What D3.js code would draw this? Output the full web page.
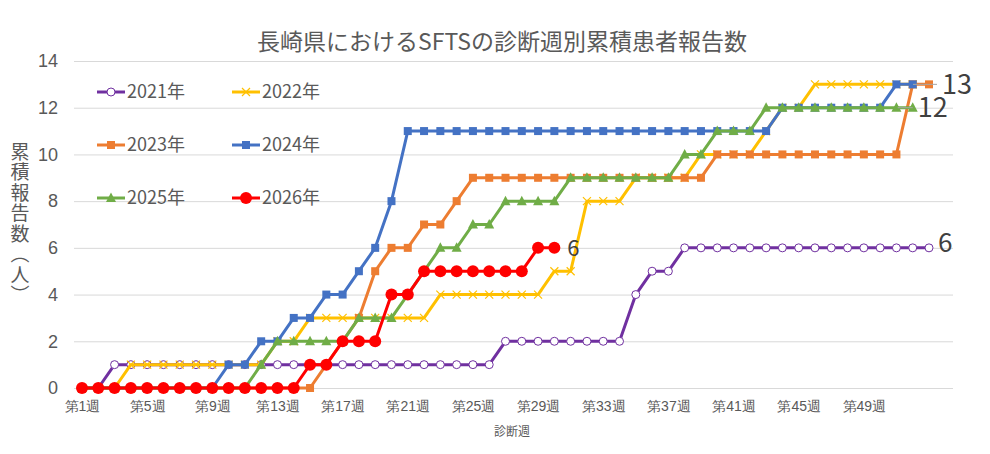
<!DOCTYPE html>
<html lang="ja">
<head>
  <meta charset="UTF-8">
  <title>長崎県におけるSFTSの診断週別累積患者報告数</title>
  <script src="https://d3js.org/d3.v7.min.js"></script>
  <style>
    body {
      margin: 0;
      background: #fff;
      font-family: "Noto Sans CJK JP", "Noto Sans", sans-serif;
    }
    .grid line {
      stroke: #d9d9d9;
      stroke-width: 1;
    }
    .tick text {
      fill: #595959;
    }
  </style>
</head>
<body>
  <div id="chart"></div>

  <script>
    // 週 (第1週〜第53週)
    const weeks = d3.range(1, 54);
    const weekTicks = [1, 5, 9, 13, 17, 21, 25, 29, 33, 37, 41, 45, 49];
    const yTicks = [0, 2, 4, 6, 8, 10, 12, 14];

    // 各年の累積報告数 (週ごと)
    const y2021 = [0,0,1,1,1,1,1,1,1,1, 1,1,1,1,1,1,1,1,1,1, 1,1,1,1,1,1,2,2,2,2, 2,2,2,2,4,5,5,6,6,6, 6,6,6,6,6,6,6,6,6,6, 6,6,6];
    const y2022 = [0,0,0,1,1,1,1,1,1,1, 1,1,2,2,3,3,3,3,3,3, 3,3,4,4,4,4,4,4,4,5, 5,8,8,8,9,9,9,9,10,10, 10,10,11,12,12,13,13,13,13,13, 13,13];
    const y2023 = [0,0,0,0,0,0,0,0,0,0, 0,0,0,0,0,1,2,3,5,6, 6,7,7,8,9,9,9,9,9,9, 9,9,9,9,9,9,9,9,9,10, 10,10,10,10,10,10,10,10,10,10, 10,13,13];
    const y2024 = [0,0,0,0,0,0,0,0,0,1, 1,2,2,3,3,4,4,5,6,8, 11,11,11,11,11,11,11,11,11,11, 11,11,11,11,11,11,11,11,11,11, 11,11,11,12,12,12,12,12,12,12, 13,13];
    const y2025 = [0,0,0,0,0,0,0,0,0,0, 0,1,2,2,2,2,2,3,3,3, 4,5,6,6,7,7,8,8,8,8, 9,9,9,9,9,9,9,10,10,11, 11,11,12,12,12,12,12,12,12,12, 12,12];
    const y2026 = [0,0,0,0,0,0,0,0,0,0, 0,0,0,0,1,1,2,2,2,4, 4,5,5,5,5,5,5,5,6,6];

    const series = [
      { name: "2021年", values: y2021, color: "#7030A0", marker: "openCircle" },
      { name: "2022年", values: y2022, color: "#FFC000", marker: "cross" },
      { name: "2023年", values: y2023, color: "#ED7D31", marker: "square" },
      { name: "2024年", values: y2024, color: "#4472C4", marker: "square" },
      { name: "2025年", values: y2025, color: "#70AD47", marker: "triangle" },
      { name: "2026年", values: y2026, color: "#FF0000", marker: "circle" }
    ];

    const width = 990, height = 454;
    const plotLeft = 74, plotRight = 953, plotTop = 61, plotBottom = 388;

    const svg = d3.select("#chart").append("svg")
      .attr("width", width)
      .attr("height", height);

    const x = d3.scalePoint()
      .domain(weeks)
      .range([82, 929]);

    const y = d3.scaleLinear()
      .domain([0, 14])
      .range([plotBottom, plotTop]);

    // タイトル
    svg.append("text")
      .attr("x", 502)
      .attr("y", 50)
      .attr("text-anchor", "middle")
      .style("font-size", "23px")
      .style("fill", "#595959")
      .text("長崎県におけるSFTSの診断週別累積患者報告数");

    // グリッドと縦軸
    svg.append("g")
      .attr("class", "grid")
      .attr("transform", "translate(" + plotLeft + ",0)")
      .call(d3.axisLeft(y).tickValues(yTicks).tickSize(-(plotRight - plotLeft)).tickPadding(16))
      .call(g => g.select(".domain").remove())
      .selectAll(".tick text")
      .style("font-size", "18px");

    // 横軸
    svg.append("g")
      .attr("transform", "translate(0," + plotBottom + ")")
      .call(d3.axisBottom(x).tickValues(weekTicks).tickFormat(w => "第" + w + "週").tickSize(0).tickPadding(13))
      .call(g => g.select(".domain").remove())
      .selectAll(".tick text")
      .style("font-size", "14px");

    // 軸タイトル
    svg.append("text")
      .attr("x", 512)
      .attr("y", 436)
      .attr("text-anchor", "middle")
      .style("font-size", "12px")
      .style("fill", "#595959")
      .text("診断週");

    // 縦書きの軸タイトル
    svg.append("text")
      .attr("x", 20)
      .attr("y", 142)
      .style("writing-mode", "vertical-rl")
      .style("letter-spacing", "1.5px")
      .style("font-size", "19px")
      .style("fill", "#595959")
      .text("累積報告数（人）");

    // マーカー
    function drawMarker(g, type, color) {
      if (type === "openCircle") {
        g.append("circle").attr("r", 4).attr("fill", "#fff").attr("stroke", color).attr("stroke-width", 1);
      } else if (type === "cross") {
        g.append("path").attr("d", "M-4,-4L4,4M-4,4L4,-4").attr("stroke", color).attr("stroke-width", 1.2).attr("fill", "none");
      } else if (type === "square") {
        g.append("rect").attr("x", -4).attr("y", -4).attr("width", 8).attr("height", 8).attr("fill", color);
      } else if (type === "triangle") {
        g.append("path").attr("d", "M0,-5.5L5,4L-5,4Z").attr("fill", color);
      } else if (type === "circle") {
        g.append("circle").attr("r", 6).attr("fill", color);
      }
    }

    const line = d3.line()
      .x((d, i) => x(weeks[i]))
      .y(d => y(d));

    series.forEach(s => {
      const g = svg.append("g");
      g.append("path")
        .datum(s.values)
        .attr("d", line)
        .attr("fill", "none")
        .attr("stroke", s.color)
        .attr("stroke-width", 3)
        .attr("stroke-linejoin", "round");
      s.values.forEach((v, i) => {
        const m = g.append("g").attr("transform", "translate(" + x(weeks[i]) + "," + y(v) + ")");
        drawMarker(m, s.marker, s.color);
      });
    });

    // データラベル
    const labels = [
      { s: series[0], dx: 9, dy: -5, size: 26 },
      { s: series[2], dx: 13, dy: 0, size: 27, leader: [-16, 8] },
      { s: series[4], dx: 5, dy: 0, size: 27, leader: [-15, 0] },
      { s: series[5], dx: 13, dy: 0, size: 22 }
    ];
    labels.forEach(l => {
      const vals = l.s.values;
      const last = vals.length - 1;
      const px = x(weeks[last]), py = y(vals[last]);
      if (l.leader) {
        svg.append("line")
          .attr("x1", px + l.leader[0]).attr("x2", px + l.leader[1])
          .attr("y1", py).attr("y2", py)
          .attr("stroke", "#a6a6a6").attr("stroke-width", 1);
      }
      svg.append("text")
        .attr("x", px + l.dx)
        .attr("y", py + l.dy)
        .attr("dy", "0.36em")
        .style("font-size", l.size + "px")
        .style("fill", "#404040")
        .text(vals[last]);
    });

    // 凡例
    const legend = svg.append("g");
    series.forEach((s, i) => {
      const lx = 97 + (i % 2) * 135;
      const ly = 92 + Math.floor(i / 2) * 53;
      const g = legend.append("g").attr("transform", "translate(" + lx + "," + ly + ")");
      g.append("line").attr("x1", 0).attr("x2", 28).attr("stroke", s.color).attr("stroke-width", 3);
      drawMarker(g.append("g").attr("transform", "translate(14,0)"), s.marker, s.color);
      g.append("text")
        .attr("x", 30)
        .attr("dy", "0.36em")
        .style("font-size", "18px")
        .style("fill", "#595959")
        .text(s.name);
    });
  </script>
</body>
</html>
